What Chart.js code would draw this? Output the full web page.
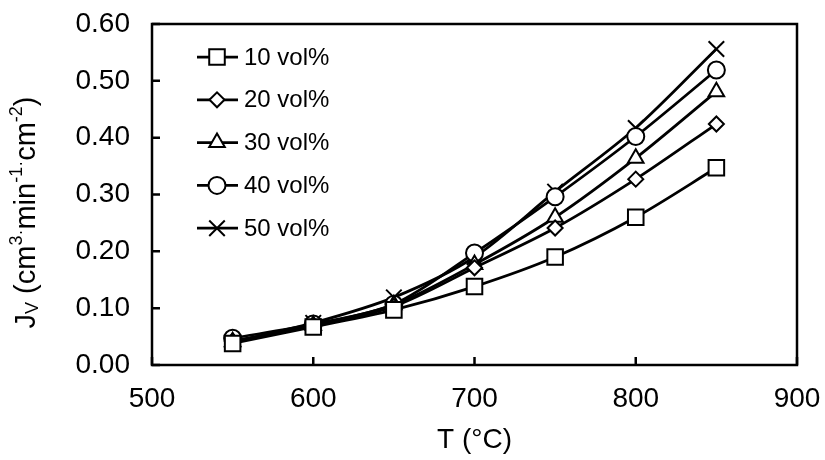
<!DOCTYPE html>
<html>
<head>
<meta charset="utf-8">
<script src="https://cdn.jsdelivr.net/npm/chart.js@4/dist/chart.umd.min.js"></script>
<style>
  html, body { margin: 0; padding: 0; background: #fff; }
  #wrap { width: 825px; height: 460px; }
</style>
</head>
<body>
<div id="wrap"><canvas id="c" width="825" height="460"></canvas></div>
<script>
// Permeation flux vs temperature for different feed concentrations
const temps = [550, 600, 650, 700, 750, 800, 850];
const seriesNames = ['10 vol%', '20 vol%', '30 vol%', '40 vol%', '50 vol%'];
const jv10 = [0.038, 0.067, 0.097, 0.138, 0.190, 0.260, 0.347];
const jv20 = [0.042, 0.069, 0.103, 0.171, 0.241, 0.327, 0.424];
const jv30 = [0.041, 0.070, 0.106, 0.177, 0.260, 0.364, 0.481];
const jv40 = [0.047, 0.072, 0.107, 0.197, 0.296, 0.402, 0.519];
const jv50 = [0.040, 0.074, 0.119, 0.190, 0.305, 0.417, 0.556];
const xTicks = [500, 600, 700, 800, 900];
const yTicks = [0, 0.1, 0.2, 0.3, 0.4, 0.5, 0.6];

const allSeries = [jv10, jv20, jv30, jv40, jv50];
const markers = ['rect', 'rectRot', 'triangle', 'circle', 'crossRot'];
const markerSizes = [11, 7.5, 9, 8.5, 11];

const FONT = '"Liberation Sans", Arial, sans-serif';

// frame round the plot area plus inward tick marks (Excel style)
const framePlugin = {
    id: 'frame',
    afterDraw(chart) {
        const { ctx, chartArea: a, scales } = chart;
        ctx.save();
        ctx.strokeStyle = '#000';
        ctx.lineWidth = 2.5;
        ctx.strokeRect(a.left, a.top, a.right - a.left, a.bottom - a.top);
        ctx.beginPath();
        yTicks.forEach(v => {
            const y = scales.y.getPixelForValue(v);
            ctx.moveTo(a.left, y);
            ctx.lineTo(a.left + 8, y);
        });
        xTicks.forEach(v => {
            const x = scales.x.getPixelForValue(v);
            ctx.moveTo(x, a.bottom);
            ctx.lineTo(x, a.bottom - 8);
        });
        ctx.stroke();
        ctx.restore();
    }
};

// legend inside the plot: line segment through marker, then label
const legendPlugin = {
    id: 'innerLegend',
    afterDraw(chart) {
        const { ctx, chartArea: a } = chart;
        const x0 = a.left + 45;
        const y0 = a.top + 33;
        const gap = 42.8;
        ctx.save();
        chart.data.datasets.forEach((ds, i) => {
            const y = y0 + i * gap;
            ctx.strokeStyle = '#000';
            ctx.lineWidth = 2.75;
            ctx.beginPath();
            ctx.moveTo(x0, y);
            ctx.lineTo(x0 + 41, y);
            ctx.stroke();
            ctx.fillStyle = '#fff';
            ctx.lineWidth = 2;
            Chart.helpers.drawPoint(ctx, {
                pointStyle: ds.pointStyle,
                radius: ds.pointRadius,
                rotation: 0,
                borderWidth: 2
            }, x0 + 20, y);
            ctx.fillStyle = '#000';
            ctx.font = '24px ' + FONT;
            ctx.textBaseline = 'middle';
            ctx.textAlign = 'left';
            ctx.fillText(ds.label, x0 + 47, y + 1);
        });
        ctx.restore();
    }
};

// y title with subscript / superscripts, rotated
const yTitlePlugin = {
    id: 'yTitle',
    afterDraw(chart) {
        const { ctx, chartArea: a } = chart;
        const parts = [
            ['J', 0, 29], ['V', 6, 18], [' (cm', 0, 29], ['3', -10, 18],
            ['\u00b7', -6, 18], ['min', 0, 29], ['-1', -10, 18],
            ['\u00b7', -6, 18], ['cm', 0, 29], ['-2', -10, 18], [')', 0, 29]
        ];
        ctx.save();
        let total = 0;
        parts.forEach(p => {
            ctx.font = p[2] + 'px ' + FONT;
            total += ctx.measureText(p[0]).width;
        });
        ctx.translate(27, (a.top + a.bottom) / 2 + 18);
        ctx.rotate(-Math.PI / 2);
        ctx.fillStyle = '#000';
        ctx.textBaseline = 'middle';
        ctx.textAlign = 'left';
        let x = -total / 2;
        parts.forEach(p => {
            ctx.font = p[2] + 'px ' + FONT;
            ctx.fillText(p[0], x, p[1]);
            x += ctx.measureText(p[0]).width;
        });
        ctx.restore();
    }
};

const datasets = allSeries.map((vals, i) => ({
    label: seriesNames[i],
    data: vals.map((v, k) => ({ x: temps[k], y: v })),
    borderColor: '#000',
    borderWidth: 2.75,
    backgroundColor: '#fff',
    pointStyle: markers[i],
    pointRadius: markerSizes[i],
    pointBorderWidth: 2,
    pointBorderColor: '#000',
    pointBackgroundColor: '#fff',
    tension: 0.3,
    fill: false
}));

new Chart(document.getElementById('c').getContext('2d'), {
    type: 'line',
    data: { datasets: datasets },
    options: {
        responsive: false,
        animation: false,
        layout: { padding: { left: 0, right: 28, top: 24, bottom: 0 } },
        plugins: {
            legend: { display: false },
            tooltip: { enabled: false }
        },
        scales: {
            x: {
                type: 'linear',
                min: 500,
                max: 900,
                afterFit: s => {
                    s.height = 95;
                    s.paddingLeft = 0;
                    s.paddingRight = 0;
                },
                afterBuildTicks: s => { s.ticks = xTicks.map(v => ({ value: v })); },
                grid: { display: false, drawTicks: false },
                border: { display: false },
                ticks: {
                    color: '#000',
                    padding: 17,
                    font: { family: FONT, size: 28 }
                },
                title: {
                    display: true,
                    text: 'T (\u00b0C)',
                    color: '#000',
                    padding: { top: 4, bottom: 3 },
                    font: { family: FONT, size: 28 }
                }
            },
            y: {
                type: 'linear',
                min: 0,
                max: 0.6,
                afterFit: s => {
                    s.width = 152;
                    s.paddingTop = 0;
                    s.paddingBottom = 0;
                },
                afterBuildTicks: s => { s.ticks = yTicks.map(v => ({ value: v })); },
                grid: { display: false, drawTicks: false },
                border: { display: false },
                ticks: {
                    color: '#000',
                    padding: 22,
                    font: { family: FONT, size: 28 },
                    callback: v => v.toFixed(2)
                }
            }
        }
    },
    plugins: [framePlugin, legendPlugin, yTitlePlugin]
});
</script>
</body>
</html>
